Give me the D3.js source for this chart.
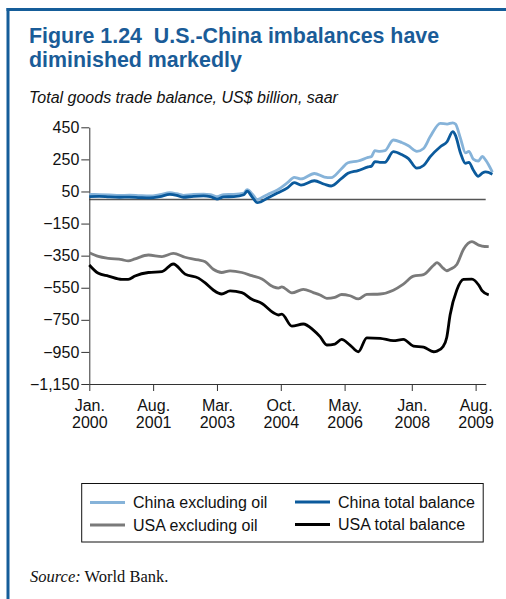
<!DOCTYPE html>
<html><head><meta charset="utf-8">
<script src="https://cdn.jsdelivr.net/npm/d3@7"></script>
<style>
html,body{margin:0;padding:0;background:#fff;}
svg{display:block;}
text{font-family:"Liberation Sans",Arial,Helvetica,sans-serif;}
</style></head>
<body>
<script>
// ---- data (month index from Jan 2000) ----
const chinaMonths = [0,3,6,9,12,15,18,21,24,26,28,31,34,36,38,40,43,46,47,48.5,50,51,53,56,59,61,63,67,70,72,75,77,80,83,84,85,86.5,88,90.5,93,95,97.5,99.5,101.5,104.5,106.5,108.2,109,110.5,112,113,114.3,115.8,117,118,120];
const chinaExOil = [32,30,28,25,27,24,22,30,42,36,26,32,33,30,18,30,32,40,62,35,0,8,30,60,105,138,128,162,140,136,190,229,240,262,268,304,300,304,371,355,335,300,318,392,475,470,478,470,380,290,300,252,240,268,245,170];
const chinaTotal = [18,20,16,14,15,12,10,18,32,26,14,20,22,18,2,16,18,30,52,15,-20,-15,8,40,72,105,90,117,95,84,130,163,180,203,208,236,232,232,298,280,255,195,212,267,329,360,423,400,290,225,232,184,145,165,172,158];

const usaMonths = [0,2.7,5.7,9.7,11.6,13.6,17.6,21.6,25,28.5,32.5,34.5,36.9,39.4,41.9,45.4,48.4,51.4,54.8,56.3,57.3,60.3,63.7,66.7,68.7,70.7,73.1,75.1,77.6,80.1,82.6,86.6,90.5,93.5,96.5,99.5,102.5,103.5,105.4,106.4,107.4,109.4,111.4,113.9,115.9,116.9,118.9];
const usaExOil = [-332,-355,-367,-375,-383,-370,-346,-356,-336,-360,-377,-388,-435,-455,-445,-455,-475,-495,-545,-552,-544,-582,-560,-580,-595,-616,-610,-592,-600,-620,-592,-589,-565,-527,-478,-468,-410,-394,-430,-444,-435,-405,-310,-263,-284,-290,-294];
const usaTotal = [-408,-460,-477,-498,-498,-477,-455,-450,-402,-465,-490,-520,-564,-589,-570,-581,-622,-648,-706,-720,-714,-789,-776,-814,-855,-907,-901,-872,-907,-949,-862,-865,-880,-872,-914,-920,-949,-945,-914,-860,-720,-564,-498,-496,-533,-568,-595];

const yTicks = [450,250,50,-150,-350,-550,-750,-950,-1150];
const xTickMonths = [0,19,38,57,76,96,115];
const xTickMonthNames = ["Jan.","Aug.","Mar.","Oct.","May.","Jan.","Aug."];
const xTickYears = ["2000","2001","2003","2004","2006","2008","2009"];

const seriesNames = ["China excluding oil","China total balance","USA excluding oil","USA total balance"];
const seriesColors = ["#86b3d9","#0b5a9c","#7a7a7a","#000000"];

// ---- drawing ----
const W = 506, H = 599;
const svg = d3.select("body").append("svg").attr("width", W).attr("height", H);

// frame
const frameColor = "#155d99";
svg.append("rect").attr("x",6.5).attr("y",8).attr("width",W-6.5).attr("height",3).attr("fill",frameColor);
svg.append("rect").attr("x",6.5).attr("y",8).attr("width",3).attr("height",H-8).attr("fill",frameColor);

// titles
const titleColor = "#1a5c98";
svg.append("text").attr("x",29).attr("y",43).attr("fill",titleColor)
  .attr("font-size",21.4).attr("font-weight","bold").style("white-space","pre")
  .text("Figure 1.24  U.S.-China imbalances have");
svg.append("text").attr("x",29).attr("y",66.5).attr("fill",titleColor)
  .attr("font-size",21.4).attr("font-weight","bold")
  .text("diminished markedly");
svg.append("text").attr("x",29).attr("y",103).attr("fill","#111")
  .attr("font-size",16).attr("font-style","italic")
  .text("Total goods trade balance, US$ billion, saar");

// scales
const x = d3.scaleLinear().domain([0,118]).range([89.3,485.7]);
const y = d3.scaleLinear().domain([-1150,450]).range([384,127.3]);

// zero line
svg.append("line").attr("x1",x(0)).attr("x2",x(118)).attr("y1",y(0)).attr("y2",y(0))
  .attr("stroke","#555").attr("stroke-width",1.5);

// y axis
const yAxis = svg.append("g").attr("transform",`translate(${x(0)},0)`)
  .call(d3.axisLeft(y).tickValues(yTicks).tickSize(8).tickSizeOuter(0).tickPadding(2)
    .tickFormat(d => d3.format(",")(d).replace("-","\u2212")));
yAxis.selectAll("text").attr("font-size",16).attr("fill","#111").style("font-family",'"Liberation Sans",Arial,sans-serif');
yAxis.selectAll("line,path").attr("stroke","#333");

// x axis
const xAxis = svg.append("g").attr("transform",`translate(0,${y(-1150)})`)
  .call(d3.axisBottom(x).tickValues(xTickMonths).tickSize(7).tickSizeOuter(0).tickFormat(""));
xAxis.selectAll("line,path").attr("stroke","#333");
xAxis.selectAll(".tick").each(function(d,i){
  const t = d3.select(this).append("text").attr("fill","#111").attr("font-size",16)
    .attr("text-anchor","middle").style("font-family",'"Liberation Sans",Arial,sans-serif');
  t.append("tspan").attr("x",0).attr("y",26.5).text(xTickMonthNames[i]);
  t.append("tspan").attr("x",0).attr("y",44).text(xTickYears[i]);
});

// lines
const line = d3.line().x(d=>x(d[0])).y(d=>y(d[1])).curve(d3.curveMonotoneX);
const seriesData = [
  d3.zip(chinaMonths, chinaExOil),
  d3.zip(chinaMonths, chinaTotal),
  d3.zip(usaMonths, usaExOil),
  d3.zip(usaMonths, usaTotal)
];
seriesData.forEach((s,i)=>{
  svg.append("path").datum(s).attr("d",line).attr("fill","none")
    .attr("stroke",seriesColors[i]).attr("stroke-width",2.8).attr("stroke-linejoin","round");
});

// legend
svg.append("rect").attr("x",81.7).attr("y",483.5).attr("width",401.5).attr("height",58.5)
  .attr("fill","none").attr("stroke","#111").attr("stroke-width",1);
const legPos = [[90,502.5],[295,502],[90,525],[295,524.5]];
seriesNames.forEach((n,i)=>{
  const [lx,ly] = legPos[i];
  svg.append("line").attr("x1",lx).attr("x2",lx+35).attr("y1",ly).attr("y2",ly)
    .attr("stroke",seriesColors[i]).attr("stroke-width",2.8);
  svg.append("text").attr("x",lx+43).attr("y",ly+5.5).attr("font-size",16).attr("fill","#111").text(n);
});

// source
const src = svg.append("text").attr("x",30).attr("y",582).attr("font-size",16.5).attr("fill","#111")
  .style("font-family",'"Liberation Serif","Times New Roman",serif');
src.append("tspan").attr("font-style","italic").text("Source:");
src.append("tspan").text(" World Bank.");
</script>
</body></html>
